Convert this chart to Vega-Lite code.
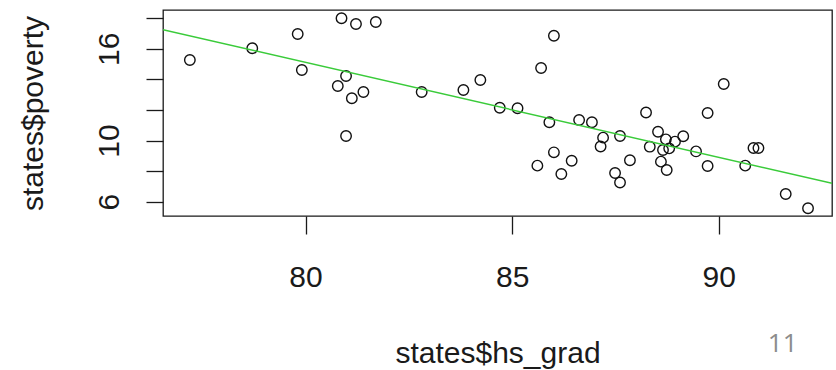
{
  "$schema": "https://vega.github.io/schema/vega-lite/v6.json",
  "width": 669,
  "height": 206,
  "autosize": {"type": "none"},
  "padding": {"left": 163, "top": 10, "right": 4, "bottom": 154},
  "background": "white",
  "config": {
    "view": {"stroke": "#1a1a1a", "strokeWidth": 1.3},
    "font": "Liberation Sans"
  },
  "resolve": {"axis": {"y": "independent", "x": "independent"}},
  "layer": [
    {
      "data": {
        "values": [
          {"hs_grad": 77.2, "poverty": 15.27},
          {"hs_grad": 78.71, "poverty": 16.04},
          {"hs_grad": 79.81, "poverty": 16.97},
          {"hs_grad": 79.91, "poverty": 14.62},
          {"hs_grad": 80.87, "poverty": 18.0},
          {"hs_grad": 81.22, "poverty": 17.63},
          {"hs_grad": 81.7, "poverty": 17.76},
          {"hs_grad": 80.98, "poverty": 14.22},
          {"hs_grad": 80.78, "poverty": 13.57},
          {"hs_grad": 81.12, "poverty": 12.77},
          {"hs_grad": 81.4, "poverty": 13.18},
          {"hs_grad": 80.98, "poverty": 10.3},
          {"hs_grad": 82.81, "poverty": 13.18},
          {"hs_grad": 83.82, "poverty": 13.31},
          {"hs_grad": 84.23, "poverty": 13.96},
          {"hs_grad": 86.01, "poverty": 16.86},
          {"hs_grad": 85.7, "poverty": 14.75},
          {"hs_grad": 84.7, "poverty": 12.15},
          {"hs_grad": 85.13, "poverty": 12.11},
          {"hs_grad": 85.9, "poverty": 11.2},
          {"hs_grad": 86.62, "poverty": 11.35},
          {"hs_grad": 86.93, "poverty": 11.2},
          {"hs_grad": 87.2, "poverty": 10.19},
          {"hs_grad": 87.14, "poverty": 9.61},
          {"hs_grad": 87.61, "poverty": 10.3},
          {"hs_grad": 86.01, "poverty": 9.23},
          {"hs_grad": 85.61, "poverty": 8.36},
          {"hs_grad": 86.19, "poverty": 7.81},
          {"hs_grad": 86.44, "poverty": 8.68},
          {"hs_grad": 87.49, "poverty": 7.88},
          {"hs_grad": 87.61, "poverty": 7.26},
          {"hs_grad": 87.85, "poverty": 8.71},
          {"hs_grad": 88.24, "poverty": 11.84},
          {"hs_grad": 88.53, "poverty": 10.58},
          {"hs_grad": 88.33, "poverty": 9.6},
          {"hs_grad": 88.72, "poverty": 10.08},
          {"hs_grad": 88.94, "poverty": 9.93},
          {"hs_grad": 88.65, "poverty": 9.38},
          {"hs_grad": 88.8, "poverty": 9.49},
          {"hs_grad": 88.6, "poverty": 8.62},
          {"hs_grad": 88.74, "poverty": 8.07},
          {"hs_grad": 89.14, "poverty": 10.28},
          {"hs_grad": 89.45, "poverty": 9.29},
          {"hs_grad": 89.73, "poverty": 11.8},
          {"hs_grad": 90.12, "poverty": 13.7},
          {"hs_grad": 89.73, "poverty": 8.34},
          {"hs_grad": 90.64, "poverty": 8.36},
          {"hs_grad": 90.84, "poverty": 9.51},
          {"hs_grad": 90.96, "poverty": 9.51},
          {"hs_grad": 91.62, "poverty": 6.5},
          {"hs_grad": 92.16, "poverty": 5.57}
        ]
      },
      "mark": {
        "type": "point",
        "shape": "circle",
        "filled": false,
        "size": 110,
        "strokeWidth": 1.4,
        "color": "#111111",
        "opacity": 1,
        "clip": true
      },
      "encoding": {
        "x": {
          "field": "hs_grad",
          "type": "quantitative",
          "scale": {"domain": [76.55, 92.74], "nice": false, "zero": false},
          "axis": {
            "orient": "bottom",
            "values": [80, 85, 90],
            "domain": false,
            "grid": false,
            "tickSize": 18,
            "tickWidth": 1.3,
            "tickColor": "#1a1a1a",
            "labelFontSize": 30,
            "labelColor": "#1a1a1a",
            "labelPadding": 52,
            "labelBaseline": "alphabetic",
            "labelFlush": false,
            "labelOverlap": false,
            "title": "states$hs_grad",
            "titleFontSize": 30,
            "titleFontWeight": "normal",
            "titleColor": "#1a1a1a",
            "titleBaseline": "alphabetic",
            "titleAlign": "center",
            "titleX": 334.5,
            "titleY": 146
          }
        },
        "y": {
          "field": "poverty",
          "type": "quantitative",
          "scale": {"domain": [5.064, 18.543], "nice": false, "zero": false},
          "axis": {
            "orient": "left",
            "values": [6, 8, 10, 12, 14, 16, 18],
            "labels": false,
            "domain": false,
            "grid": false,
            "tickSize": 17,
            "tickWidth": 1.3,
            "tickColor": "#1a1a1a",
            "title": null
          }
        }
      }
    },
    {
      "data": {
        "values": [
          {"hs_grad": 76.55, "poverty": 17.26},
          {"hs_grad": 92.74, "poverty": 7.2}
        ]
      },
      "mark": {"type": "line", "color": "#3acb3a", "strokeWidth": 1.5, "clip": true},
      "encoding": {
        "x": {
          "field": "hs_grad",
          "type": "quantitative",
          "axis": {
            "orient": "bottom",
            "labels": false,
            "ticks": false,
            "domain": false,
            "grid": false,
            "title": "11",
            "titleFont": "Open Sans",
            "titleFontSize": 26,
            "titleFontWeight": "normal",
            "titleColor": "#8c8c8c",
            "titleAlign": "right",
            "titleBaseline": "alphabetic",
            "titleX": 634,
            "titleY": 135
          }
        },
        "y": {
          "field": "poverty",
          "type": "quantitative",
          "axis": {
            "orient": "left",
            "values": [6, 10, 16],
            "ticks": false,
            "domain": false,
            "grid": false,
            "labelFontSize": 30,
            "labelColor": "#1a1a1a",
            "labelAngle": -90,
            "labelAlign": "center",
            "labelBaseline": "alphabetic",
            "labelPadding": 45,
            "labelFlush": false,
            "labelOverlap": false,
            "title": "states$poverty",
            "titleFontSize": 30,
            "titleFontWeight": "normal",
            "titleColor": "#1a1a1a",
            "titleAngle": -90,
            "titleAlign": "center",
            "titleBaseline": "alphabetic",
            "titleX": -121,
            "titleY": 103
          }
        }
      }
    }
  ]
}
